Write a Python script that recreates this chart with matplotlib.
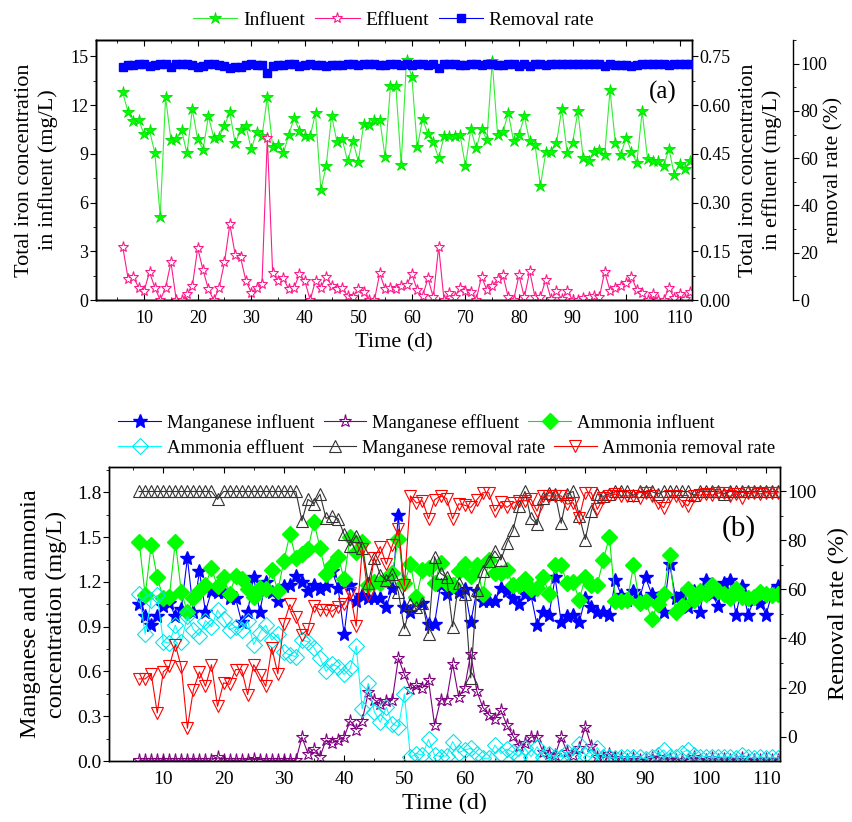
import numpy as np
import matplotlib
matplotlib.use('Agg')
import matplotlib.pyplot as plt
from matplotlib.ticker import MultipleLocator, FormatStrFormatter

plt.rcParams['font.family'] = 'serif'
plt.rcParams['font.serif'] = ['Liberation Serif', 'DejaVu Serif']

# sampling days (daily, day 6 to 112)
days = np.arange(6, 113)

# ---- panel (a): total iron ----
fe_in = [12.78, 11.55, 11.00, 11.05, 10.20, 10.44, 9.04, 5.14, 12.47, 9.86,
         9.88, 10.44, 9.02, 11.75, 9.88, 9.25, 11.30, 10.00, 10.03, 10.73,
         11.55, 9.64, 10.46, 10.73, 9.29, 10.32, 10.07, 12.47, 9.41, 9.55,
         9.04, 10.17, 11.18, 10.42, 10.07, 10.09, 11.50, 6.78, 8.26, 11.35,
         9.74, 9.88, 8.53, 9.76, 8.51, 10.85, 10.79, 11.05, 11.10, 8.80,
         13.19, 13.19, 8.32, 14.80, 13.70, 9.39, 11.14, 10.21, 9.70, 8.73,
         10.07, 10.07, 10.07, 10.13, 8.26, 10.52, 9.33, 10.52, 9.86, 14.69,
         10.17, 10.34, 11.51, 9.76, 10.17, 11.30, 9.76, 9.56, 7.03, 9.08,
         9.14, 9.66, 11.78, 9.04, 9.66, 11.61, 8.73, 8.53, 9.08, 9.21,
         8.94, 12.91, 9.66, 8.94, 10.00, 9.14, 8.43, 11.61, 8.69, 8.53,
         8.57, 8.22, 9.31, 7.71, 8.38, 8.08, 8.53]
fe_out = [.164, .066, .070, .038, .029, .086, .038, .000, .038, .116,
          .000, .000, .018, .043, .160, .092, .033, .000, .038, .116,
          .233, .140, .131, .059, .023, .038, .048, .500, .082, .059,
          .067, .033, .038, .079, .059, .000, .059, .038, .072, .044,
          .035, .038, .012, .010, .034, .026, .000, .000, .082, .034,
          .038, .034, .044, .046, .079, .031, .012, .067, .008, .164,
          .000, .021, .008, .036, .029, .026, .000, .072, .031, .043,
          .064, .077, .008, .000, .077, .008, .089, .008, .010, .062,
          .002, .029, .002, .029, .000, .000, .005, .010, .012, .008,
          .087, .029, .038, .044, .053, .072, .031, .021, .000, .019,
          .000, .000, .038, .005, .019, .002, .026]
fe_rate = [98.7, 99.4, 99.4, 99.7, 99.7, 99.2, 99.6, 100.0, 99.7, 98.8,
           100.0, 100.0, 99.8, 99.6, 98.4, 99.0, 99.7, 100.0, 99.6, 98.9,
           98.0, 98.5, 98.7, 99.5, 99.8, 99.6, 99.5, 96.0, 99.1, 99.4,
           99.3, 99.7, 99.7, 99.2, 99.4, 100.0, 99.5, 99.4, 99.1, 99.6,
           99.6, 99.6, 99.9, 99.9, 99.6, 99.8, 100.0, 100.0, 99.3, 99.6,
           99.7, 99.7, 99.5, 99.7, 99.4, 99.7, 99.9, 99.3, 99.9, 98.1,
           100.0, 99.8, 99.9, 99.6, 99.6, 99.8, 100.0, 99.3, 99.7, 99.7,
           99.4, 99.3, 99.9, 100.0, 99.2, 99.9, 99.1, 99.9, 99.9, 99.3,
           100.0, 99.7, 100.0, 99.7, 100.0, 100.0, 99.9, 99.9, 99.9, 99.9,
           99.0, 99.8, 99.6, 99.5, 99.5, 99.2, 99.6, 99.8, 100.0, 99.8,
           100.0, 100.0, 99.6, 99.9, 99.8, 100.0, 99.7]

# ---- panel (b): manganese and ammonia ----
mn_in = [1.05, 0.97, 0.91, 0.97, 1.04, 1.06, 0.97, 1.02, 1.36, 1.00,
         1.27, 1.00, 1.14, 1.13, 1.13, 1.09, 1.09, 0.93, 1.00, 1.23,
         1.00, 1.20, 1.13, 1.07, 1.17, 1.18, 1.24, 1.20, 1.14, 1.18,
         1.15, 1.17, 1.27, 1.16, 0.85, 1.18, 1.07, 1.11, 1.09, 1.09,
         1.09, 1.03, 1.16, 1.65, 1.03, 1.00, 1.07, 1.06, 0.92, 0.92,
         1.18, 1.12, 1.15, 1.13, 1.15, 0.93, 1.14, 1.07, 1.07, 1.07,
         1.16, 1.14, 1.09, 1.05, 1.12, 1.11, 0.91, 1.00, 0.98, 1.23,
         0.93, 0.97, 0.98, 0.93, 1.09, 1.03, 1.00, 1.00, 0.98, 1.21,
         1.11, 1.08, 1.14, 1.09, 1.23, 1.12, 1.09, 1.00, 1.32, 1.09,
         1.12, 1.03, 1.14, 1.00, 1.21, 1.12, 1.04, 1.19, 1.21, 0.98,
         1.17, 0.98, 1.08, 1.06, 0.98, 1.13, 1.17]
mn_out = [0.005, 0.005, 0.005, 0.005, 0.005, 0.005, 0.005, 0.005, 0.005, 0.005,
          0.005, 0.005, 0.005, 0.030, 0.005, 0.005, 0.005, 0.005, 0.010, 0.015,
          0.010, 0.005, 0.005, 0.005, 0.005, 0.005, 0.005, 0.160, 0.050, 0.080,
          0.030, 0.140, 0.120, 0.140, 0.160, 0.270, 0.210, 0.270, 0.460, 0.410,
          0.380, 0.400, 0.410, 0.690, 0.580, 0.480, 0.510, 0.490, 0.540, 0.240,
          0.410, 0.410, 0.650, 0.430, 0.490, 0.720, 0.470, 0.360, 0.310, 0.280,
          0.340, 0.240, 0.170, 0.100, 0.120, 0.160, 0.160, 0.060, 0.050, 0.040,
          0.160, 0.060, 0.040, 0.090, 0.230, 0.100, 0.030, 0.020, 0.050, 0.020,
          0.020, 0.010, 0.020, 0.010, 0.010, 0.020, 0.030, 0.010, 0.015, 0.010,
          0.010, 0.010, 0.030, 0.010, 0.010, 0.020, 0.010, 0.015, 0.010, 0.010,
          0.020, 0.010, 0.010, 0.010, 0.015, 0.010, 0.010]
nh_in = [1.47, 1.11, 1.45, 1.23, 1.09, 1.10, 1.47, 1.13, 1.00, 1.09,
         1.14, 1.18, 1.29, 1.17, 1.23, 1.12, 1.24, 1.22, 1.15, 1.10,
         1.16, 1.15, 1.28, 1.14, 1.34, 1.52, 1.36, 1.39, 1.42, 1.60,
         1.43, 1.25, 1.31, 1.37, 1.22, 1.50, 1.40, 1.47, 1.18, 1.20,
         1.19, 1.22, 1.26, 1.49, 1.19, 1.32, 1.10, 1.28, 1.29, 1.19,
         1.33, 1.19, 1.18, 1.27, 1.32, 1.24, 1.31, 1.12, 1.35, 1.26,
         1.26, 1.28, 1.18, 1.18, 1.22, 1.15, 1.16, 1.23, 1.12, 1.31,
         1.31, 1.19, 1.20, 1.08, 1.23, 1.18, 1.18, 1.35, 1.50, 1.07,
         1.07, 1.08, 1.31, 1.06, 1.07, 0.95, 1.05, 1.12, 1.38, 1.00,
         1.04, 1.15, 1.08, 1.14, 1.12, 1.18, 1.14, 1.12, 1.09, 1.15,
         1.10, 1.09, 1.10, 1.13, 1.12, 1.11, 1.12]
nh_out = [1.12, 0.85, 1.08, 1.11, 0.80, 0.79, 0.91, 0.80, 0.97, 0.88,
          0.84, 0.94, 0.90, 1.01, 0.95, 0.88, 0.90, 0.88, 0.94, 0.78,
          0.86, 0.91, 0.81, 0.85, 0.73, 0.71, 0.70, 0.81, 0.80, 0.76,
          0.69, 0.60, 0.65, 0.63, 0.58, 0.62, 0.77, 0.35, 0.52, 0.33,
          0.26, 0.36, 0.25, 0.23, 0.45, 0.025, 0.05, 0.04, 0.145, 0.04,
          0.03, 0.035, 0.13, 0.056, 0.074, 0.085, 0.05, 0.018, 0.018, 0.107,
          0.05, 0.08, 0.06, 0.03, 0.085, 0.029, 0.096, 0.03, 0.05, 0.025,
          0.03, 0.063, 0.04, 0.114, 0.04, 0.025, 0.09, 0.03, 0.025, 0.018,
          0.03, 0.025, 0.03, 0.025, 0.015, 0.03, 0.04, 0.074, 0.03, 0.025,
          0.056, 0.074, 0.04, 0.025, 0.03, 0.025, 0.03, 0.025, 0.03, 0.02,
          0.04, 0.025, 0.02, 0.03, 0.02, 0.025, 0.02]
mn_rate = [100, 100, 100, 100, 100, 100, 100, 100, 100, 100,
           100, 100, 100, 96.8, 100, 100, 100, 100, 100, 100,
           100, 100, 100, 100, 100, 100, 100, 88.0, 96.8, 95.0,
           98.9, 89.0, 90.0, 88.9, 82.5, 77.7, 82.0, 77.0, 62.8, 73.0,
           66.0, 63.7, 66.4, 59.0, 43.9, 53.9, 53.0, 54.6, 42.0, 73.4,
           66.6, 64.9, 44.8, 62.8, 58.0, 23.9, 59.7, 67.5, 71.6, 75.7,
           72.0, 79.1, 84.2, 94.1, 100, 89.0, 86.6, 97.5, 99.5, 99.0,
           87.0, 99.0, 100, 90.0, 80.4, 92.0, 99.0, 98.0, 99.0, 100,
           100, 100, 98.5, 100, 100, 100, 99.0, 100, 100, 100,
           100, 100, 98.5, 100, 100, 100, 100, 99.0, 100, 100,
           100, 100, 100, 100, 100, 100, 100]
nh_rate = [23.5, 23.5, 25.6, 9.6, 26.4, 28.6, 37.5, 28.2, 3.4, 19.1,
           26.4, 20.5, 29.3, 12.3, 21.9, 21.3, 27.3, 27.3, 17.1, 29.3,
           25.2, 20.5, 36.2, 25.6, 46.1, 53.9, 48.8, 41.6, 43.7, 53.2,
           51.8, 51.8, 51.1, 53.0, 53.9, 58.6, 45.0, 76.4, 57.6, 73.0,
           77.5, 70.3, 78.0, 84.6, 61.7, 98.2, 95.3, 96.2, 88.9, 96.6,
           98.2, 97.1, 88.9, 95.0, 94.4, 93.5, 96.6, 99.5, 99.5, 92.0,
           95.9, 93.5, 95.3, 96.2, 96.2, 96.8, 92.0, 98.2, 98.2, 98.2,
           98.2, 94.8, 95.4, 89.3, 99.5, 99.5, 92.7, 97.4, 98.2, 98.9,
           98.2, 98.2, 98.2, 97.4, 99.3, 98.2, 95.4, 93.4, 98.2, 98.2,
           96.2, 94.1, 98.2, 98.5, 98.9, 98.5, 99.3, 99.3, 98.0, 99.0,
           97.5, 99.2, 99.5, 99.0, 99.5, 99.3, 99.5]

fig = plt.figure(figsize=(8.53, 8.22), dpi=100)


def style_x(ax, size):
    ax.set_xlim(1, 112.3)
    ax.set_xticks(np.arange(10, 111, 10))
    ax.xaxis.set_minor_locator(MultipleLocator(5))
    ax.tick_params(axis='x', which='both', direction='in', top=True,
                   labelsize=size, pad=7)
    ax.tick_params(axis='x', which='major', length=4)
    ax.tick_params(axis='x', which='minor', length=2.5)


def style_y(ax, size):
    ax.tick_params(axis='y', which='both', direction='out', labelsize=size, pad=1.5)
    ax.tick_params(axis='y', which='major', length=4)
    ax.tick_params(axis='y', which='minor', length=2.5)
    for s in ax.spines.values():
        s.set_linewidth(1.0)


# ---------------- top panel ----------------
ax1 = fig.add_axes([0.1125, 0.635, 0.6987, 0.3163])
ax1b = ax1.twinx()
ax1c = ax1.twinx()
ax1c.spines['right'].set_position(('axes', 1.1695))

l1, = ax1.plot(days, fe_in, color='#33ee33', lw=0.8, marker='*', ms=9,
               mfc='#00ff00', mec='#00dd00', mew=0.6)
l2, = ax1b.plot(days, fe_out, color='#ff1a8c', lw=0.8, marker='*', ms=8,
                mfc='white', mec='#ff1a8c', mew=0.8)
l3, = ax1c.plot(days, fe_rate, color='#0000ff', lw=0.8, marker='s', ms=5.5,
                mfc='#0000ff', mec='#0000ff')

style_x(ax1, 13)
ax1.set_ylim(0, 16)
ax1.set_yticks(np.arange(0, 16, 3))
ax1.yaxis.set_minor_locator(MultipleLocator(1.5))
style_y(ax1, 13)

ax1b.set_ylim(0, 0.8)
ax1b.set_yticks(np.arange(0, 0.76, 0.15))
ax1b.yaxis.set_major_formatter(FormatStrFormatter('%.2f'))
ax1b.yaxis.set_minor_locator(MultipleLocator(0.075))
style_y(ax1b, 13)

ax1c.set_ylim(0, 110)
ax1c.set_yticks(np.arange(0, 101, 20))
ax1c.yaxis.set_minor_locator(MultipleLocator(10))
style_y(ax1c, 13)

ax1.set_xlabel('Time (d)', fontsize=16)
ax1.xaxis.set_label_coords(0.5, -0.127)
ax1.set_ylabel('Total iron concentration\nin influent (mg/L)', fontsize=16, linespacing=1.25)
ax1.yaxis.set_label_coords(-0.064, 0.5)
ax1b.set_ylabel('Total iron concentration\nin effluent (mg/L)', fontsize=16, linespacing=1.25)
ax1b.yaxis.set_label_coords(1.079, 0.5)
ax1c.set_ylabel('removal rate (%)', fontsize=15.5)
ax1c.yaxis.set_label_coords(1.222, 0.5)
ax1.text(0.951, 0.80, '(a)', transform=ax1.transAxes, fontsize=18,
         ha='center', va='center')

fig.legend([l1, l2, l3], ['Influent', 'Effluent', 'Removal rate'],
           loc='center', bbox_to_anchor=(0.461, 0.976), ncol=3, frameon=False,
           fontsize=14, handlelength=2.3, handletextpad=0.3, columnspacing=0.5,
           borderpad=0)

# ---------------- bottom panel ----------------
ax2 = fig.add_axes([0.1278, 0.0742, 0.7866, 0.3577])
ax2b = ax2.twinx()

m1, = ax2.plot(days, mn_in, color='#0000ff', lw=0.8, marker='*', ms=10,
               mfc='#0000ff', mec='#0000ff')
m2, = ax2.plot(days, mn_out, color='#800080', lw=0.8, marker='*', ms=9.5,
               mfc='none', mec='#800080', mew=0.8)
m3, = ax2.plot(days, nh_in, color='#00ee00', lw=0.8, marker='D', ms=8.5,
               mfc='#00ff00', mec='#00ff00')
m4, = ax2.plot(days, nh_out, color='#00ffff', lw=0.8, marker='D', ms=8.5,
               mfc='none', mec='#00e5ee', mew=0.8)
m5, = ax2b.plot(days, mn_rate, color='#333333', lw=0.8, marker='^', ms=8.5,
                mfc='none', mec='#333333', mew=0.8)
m6, = ax2b.plot(days, nh_rate, color='#ff0000', lw=0.8, marker='v', ms=8.5,
                mfc='none', mec='#ff0000', mew=0.8)

style_x(ax2, 14)
ax2.set_ylim(0, 1.97)
ax2.set_yticks(np.arange(0, 1.81, 0.3))
ax2.yaxis.set_major_formatter(FormatStrFormatter('%.1f'))
ax2.yaxis.set_minor_locator(MultipleLocator(0.15))
style_y(ax2, 14)

ax2b.set_ylim(-10, 110)
ax2b.set_yticks(np.arange(0, 101, 20))
ax2b.set_yticks(np.arange(10, 100, 20), minor=True)
style_y(ax2b, 14)

ax2.set_xlabel('Time (d)', fontsize=17.5)
ax2.xaxis.set_label_coords(0.5, -0.109)
ax2.set_ylabel('Manganese and ammonia\nconcentration (mg/L)', fontsize=17.5, linespacing=1.3)
ax2.yaxis.set_label_coords(-0.0626, 0.5)
ax2b.set_ylabel('Removal rate (%)', fontsize=17.5)
ax2b.yaxis.set_label_coords(1.0715, 0.5)
ax2.text(0.939, 0.79, '(b)', transform=ax2.transAxes, fontsize=21,
         ha='center', va='center')

# legend in two free-flowing rows like the original
leg_kw = dict(loc='center left', ncol=3, frameon=False, fontsize=13.4,
              handlelength=2.3, handletextpad=0.3, columnspacing=0.5, borderpad=0)
fig.legend([m1, m2, m3], ['Manganese influent', 'Manganese effluent', 'Ammonia influent'],
           bbox_to_anchor=(109 / 853, 1 - 423 / 822), **leg_kw)
fig.legend([m4, m5, m6], ['Ammonia effluent', 'Manganese removal rate', 'Ammonia removal rate'],
           bbox_to_anchor=(109 / 853, 1 - 448 / 822), **leg_kw)

fig.savefig('out.png', dpi=100)
